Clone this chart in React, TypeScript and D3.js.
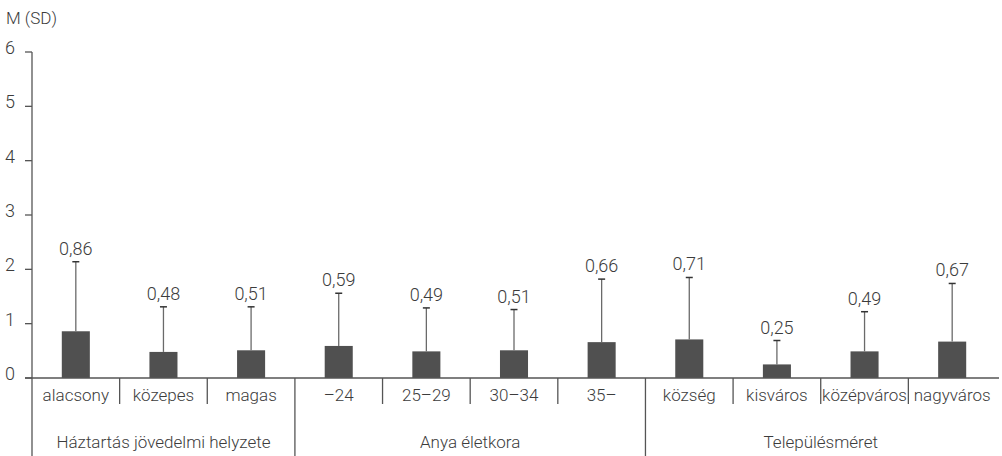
import React from "react";
import * as d3 from "d3";

const categories = ["alacsony", "közepes", "magas", "–24", "25–29", "30–34", "35–", "község", "kisváros", "középváros", "nagyváros"];
const means = [0.86, 0.48, 0.51, 0.59, 0.49, 0.51, 0.66, 0.71, 0.25, 0.49, 0.67];
const sds = [1.28, 0.83, 0.8, 0.97, 0.8, 0.75, 1.16, 1.14, 0.44, 0.73, 1.07];
const meanLabels = ["0,86", "0,48", "0,51", "0,59", "0,49", "0,51", "0,66", "0,71", "0,25", "0,49", "0,67"];
const groups = ["Háztartás jövedelmi helyzete", "Anya életkora", "Településméret"];
const groupSizes = [3, 4, 4];
const yTicks = [0, 1, 2, 3, 4, 5, 6];

const W = 1002, H = 456;
const x0 = 32, x1 = 996, yBase = 378, yTop = 52;
const font = "Roboto, 'Open Sans', sans-serif";
const txt = "#3c3c3c";

export default function App() {
  const x = d3.scaleBand<string>().domain(categories).range([x0, x1]).paddingInner(0).paddingOuter(0);
  const y = d3.scaleLinear().domain([0, 6]).range([yBase, yTop]);
  const bw = x.bandwidth();
  const barW = bw * 0.32;

  let idx = 0;
  const groupBounds = groupSizes.map((n) => {
    const s = x(categories[idx])!;
    const e = x(categories[idx + n - 1])! + bw;
    idx += n;
    return [s, e];
  });

  return (
    <svg width={W} height={H} style={{ position: "absolute", left: 0, top: 0, background: "#fff" }}
      fontFamily={font} fontWeight={300}>
      <text x={6} y={24} fontSize={17} fill={txt}>M (SD)</text>
      {/* y axis */}
      <line x1={x0} x2={x0} y1={yTop} y2={H} stroke="#555" strokeWidth={1.3} />
      {yTicks.map((t) => (
        <g key={t}>
          <line x1={x0 - 7} x2={x0} y1={y(t)} y2={y(t)} stroke="#555" strokeWidth={1.3} />
          <text x={5} y={y(t) + 2} fontSize={18} fill={txt}>{t}</text>
        </g>
      ))}
      {/* bars */}
      {categories.map((c, i) => {
        const cx = x(c)! + bw / 2;
        const top = y(means[i] + sds[i]);
        return (
          <g key={c}>
            <rect x={cx - barW / 2} y={y(means[i])} width={barW} height={yBase - y(means[i])} fill="#505050" />
            <line x1={cx} x2={cx} y1={y(means[i])} y2={top} stroke="#6a6a6a" strokeWidth={1.3} />
            <line x1={cx - 3.5} x2={cx + 3.5} y1={top} y2={top} stroke="#333" strokeWidth={1.5} />
            <text x={cx} y={top - 7} textAnchor="middle" fontSize={18} fill={txt}>{meanLabels[i]}</text>
            <text x={cx} y={401} textAnchor="middle" fontSize={17} fill={txt}>{c}</text>
          </g>
        );
      })}
      {/* x axis */}
      <line x1={x0 - 7} x2={999} y1={yBase} y2={yBase} stroke="#555" strokeWidth={1.3} />
      {categories.map((c, i) => {
        if (i === 0) return null;
        const xx = x(c)!;
        const isGroup = groupBounds.some((g) => Math.abs(g[0] - xx) < 0.5);
        return <line key={"s" + c} x1={xx} x2={xx} y1={yBase} y2={isGroup ? H : 404} stroke="#555" strokeWidth={1.3} />;
      })}
      {groups.map((g, i) => (
        <text key={g} x={(groupBounds[i][0] + groupBounds[i][1]) / 2} y={448} textAnchor="middle" fontSize={17} fill={txt}>{g}</text>
      ))}
    </svg>
  );
}
